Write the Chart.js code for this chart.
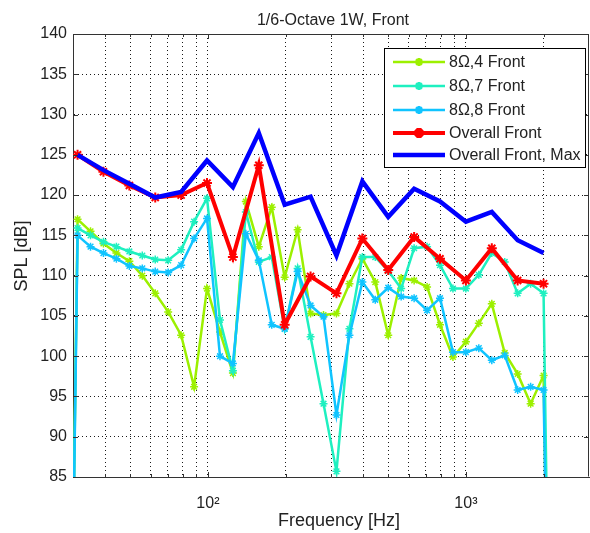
<!DOCTYPE html>
<html>
<head>
<meta charset="utf-8">
<script src="https://cdn.jsdelivr.net/npm/chart.js@4.4.1/dist/chart.umd.min.js"></script>
<style>
html,body{margin:0;padding:0;background:#fff;}
canvas{display:block;}
</style>
</head>
<body>
<canvas id="c" width="590" height="533" style="width:590px;height:533px"></canvas>
<script>
// ---- data ----
const freqSixth = [27.84, 31.25, 35.08, 39.37, 44.19, 49.61, 55.68, 62.5, 70.15, 78.75, 88.39, 99.21, 111.4, 125, 140.3, 157.5, 176.8, 198.4, 222.7, 250, 280.6, 315, 353.6, 396.9, 445.4, 500, 561.2, 630, 707.1, 793.7, 890.9, 1000, 1122, 1260, 1414, 1587, 1782, 2000, 2245];
const freqThird = [31.25, 39.37, 49.61, 62.5, 78.75, 99.21, 125, 157.5, 198.4, 250, 315, 396.9, 500, 630, 793.7, 1000, 1260, 1587, 2000];

const spl8ohm4 = [0, 117.0, 115.5, 114.0, 112.8, 111.8, 110.0, 107.8, 105.5, 102.6, 96.2, 108.4, 103.0, 97.9, 119.2, 113.6, 118.5, 109.8, 115.7, 105.3, 105.1, 105.3, 109.0, 112.1, 109.2, 102.6, 109.7, 109.4, 108.6, 103.9, 99.9, 101.8, 104.1, 106.5, 100.4, 97.8, 94.1, 97.6, 0];
const spl8ohm7 = [0, 115.9, 115.0, 114.2, 113.6, 113.0, 112.5, 112.0, 111.9, 113.2, 116.7, 119.6, 104.5, 98.2, 117.9, 111.7, 112.3, 103.4, 110.9, 102.4, 94.1, 85.7, 103.4, 112.3, 112.3, 110.6, 108.4, 113.4, 113.6, 111.3, 108.4, 108.4, 110.1, 112.8, 111.7, 107.8, 109.0, 107.8, 0];
const spl8ohm8 = [0, 115.0, 113.6, 112.8, 112.1, 111.2, 110.9, 110.5, 110.4, 111.3, 114.6, 117.1, 100.0, 99.1, 115.2, 111.9, 103.9, 103.4, 110.5, 106.3, 104.9, 92.7, 102.6, 109.2, 107.0, 108.5, 107.4, 107.2, 105.7, 107.2, 100.5, 100.5, 101.0, 99.5, 100.1, 95.8, 96.2, 95.8, 0];
const splOverall = [125.0, 122.9, 121.2, 119.7, 120.0, 121.5, 112.3, 123.7, 103.9, 109.9, 107.8, 114.6, 110.7, 114.8, 112.1, 109.4, 113.4, 109.4, 109.0];
const splOverallMax = [125.0, 123.1, 121.4, 119.7, 120.4, 124.3, 121.0, 127.7, 118.8, 119.8, 112.5, 121.7, 117.3, 120.8, 119.2, 116.7, 117.9, 114.4, 112.8];

const xGridTicks = [40, 50, 60, 70, 80, 90, 100, 200, 300, 400, 500, 600, 700, 800, 900, 1000, 2000];
const xTickLabels = {100: '10\u00B2', 1000: '10\u00B3'};
const seriesLabels = ['8\u03A9,4 Front', '8\u03A9,7 Front', '8\u03A9,8 Front', 'Overall Front', 'Overall Front, Max'];

const FONT = '"Liberation Sans", Arial, Helvetica, sans-serif';
const colors = ['#9cf000', '#1ef0c0', '#10c4ff', '#ff0000', '#0000ff'];

function pts(xs, ys) { return xs.map((x, i) => ({x: x, y: ys[i]})); }

const datasets = [
  {label: seriesLabels[0], data: pts(freqSixth, spl8ohm4), borderColor: colors[0], backgroundColor: colors[0], borderWidth: 2.5, pointStyle: 'star', pointRadius: 4, pointBorderWidth: 1.5, order: 5},
  {label: seriesLabels[1], data: pts(freqSixth, spl8ohm7), borderColor: colors[1], backgroundColor: colors[1], borderWidth: 2.5, pointStyle: 'star', pointRadius: 4, pointBorderWidth: 1.5, order: 4},
  {label: seriesLabels[2], data: pts(freqSixth, spl8ohm8), borderColor: colors[2], backgroundColor: colors[2], borderWidth: 2.5, pointStyle: 'star', pointRadius: 4, pointBorderWidth: 1.5, order: 3},
  {label: seriesLabels[3], data: pts(freqThird, splOverall), borderColor: colors[3], backgroundColor: colors[3], borderWidth: 4, pointStyle: 'star', pointRadius: 5, pointBorderWidth: 2, order: 2},
  {label: seriesLabels[4], data: pts(freqThird, splOverallMax), borderColor: colors[4], backgroundColor: colors[4], borderWidth: 4.5, pointRadius: 0, order: 1}
];

const decorPlugin = {
  id: 'decor',
  afterDatasetsDraw(chart) {
    const ctx = chart.ctx;
    const a = chart.chartArea;
    const xs = chart.scales.x, ys = chart.scales.y;
    ctx.save();
    // box top/right
    ctx.strokeStyle = '#333';
    ctx.lineWidth = 1;
    ctx.beginPath();
    ctx.moveTo(Math.round(a.left) + 0.5, Math.round(a.top) + 0.5);
    ctx.lineTo(Math.round(a.right) - 0.5, Math.round(a.top) + 0.5);
    ctx.lineTo(Math.round(a.right) - 0.5, Math.round(a.bottom) - 0.5);
    ctx.stroke();
    // inward ticks
    ctx.beginPath();
    xGridTicks.forEach(v => {
      const px = Math.round(xs.getPixelForValue(v)) + 0.5;
      const len = (v === 100 || v === 1000) ? 5 : 3;
      ctx.moveTo(px, a.bottom); ctx.lineTo(px, a.bottom - len);
      ctx.moveTo(px, a.top); ctx.lineTo(px, a.top + len);
    });
    ys.ticks.forEach(t => {
      const py = Math.round(ys.getPixelForValue(t.value)) + 0.5;
      ctx.moveTo(a.left, py); ctx.lineTo(a.left + 5, py);
      ctx.moveTo(a.right, py); ctx.lineTo(a.right - 5, py);
    });
    ctx.stroke();

    // legend
    const lx = 384.5, ly = 48.5, lw = 201, lh = 119;
    ctx.fillStyle = '#fff';
    ctx.fillRect(lx, ly, lw, lh);
    ctx.strokeStyle = '#000';
    ctx.lineWidth = 1;
    ctx.strokeRect(lx, ly, lw, lh);
    const rows = [62, 86, 110, 133, 155];
    chart.data.datasets.forEach((ds, i) => {
      const y = rows[i];
      ctx.strokeStyle = ds.borderColor;
      ctx.lineWidth = ds.borderWidth;
      ctx.beginPath();
      ctx.moveTo(393, y); ctx.lineTo(445, y);
      ctx.stroke();
      if (ds.pointRadius > 0) {
        Chart.helpers.drawPoint(ctx, {pointStyle: 'star', radius: ds.pointRadius, borderWidth: ds.pointBorderWidth, rotation: 0}, 419, y);
      }
      ctx.fillStyle = '#222';
      ctx.font = '16px ' + FONT;
      ctx.textBaseline = 'middle';
      ctx.textAlign = 'left';
      ctx.fillText(ds.label, 449, y + 1);
    });

    // title and axis labels
    ctx.fillStyle = '#222';
    ctx.textAlign = 'center';
    ctx.textBaseline = 'alphabetic';
    ctx.font = '16px ' + FONT;
    ctx.fillText('1/6-Octave 1W, Front', 333, 25);
    ctx.font = '18px ' + FONT;
    ctx.fillText('Frequency [Hz]', 339, 526);
    ctx.save();
    ctx.translate(27, 256);
    ctx.rotate(-Math.PI / 2);
    ctx.fillText('SPL [dB]', 0, 0);
    ctx.restore();
    ctx.restore();
  }
};

new Chart(document.getElementById('c'), {
  type: 'line',
  data: {datasets: datasets},
  plugins: [decorPlugin],
  options: {
    responsive: false,
    animation: false,
    devicePixelRatio: 1,
    layout: {autoPadding: false, padding: {top: 34, right: 1, left: 0, bottom: 0}},
    elements: {line: {tension: 0}},
    plugins: {legend: {display: false}, title: {display: false}, tooltip: {enabled: false}},
    scales: {
      x: {
        type: 'logarithmic',
        min: 30, max: 3000,
        afterFit(s) { s.height = 56; s.paddingLeft = 0; s.paddingRight = 0; },
        afterBuildTicks(s) { s.ticks = xGridTicks.map(v => ({value: v})); },
        ticks: {
          autoSkip: false, maxRotation: 0, minRotation: 0, padding: 17,
          color: '#222', font: {size: 16, family: FONT},
          callback(v) { return xTickLabels[v] || ''; }
        },
        grid: {color: 'rgba(0,0,0,0.9)', lineWidth: 1, drawTicks: false},
        border: {display: true, color: '#333', width: 1, dash: [1, 3]}
      },
      y: {
        min: 85, max: 140,
        afterFit(s) { s.width = 73; s.paddingTop = 0; s.paddingBottom = 0; },
        ticks: {stepSize: 5, padding: 6, color: '#222', font: {size: 16, family: FONT}},
        grid: {color: 'rgba(0,0,0,0.9)', lineWidth: 1, drawTicks: false},
        border: {display: true, color: '#333', width: 1, dash: [1, 3]}
      }
    }
  }
});
</script>
</body>
</html>
